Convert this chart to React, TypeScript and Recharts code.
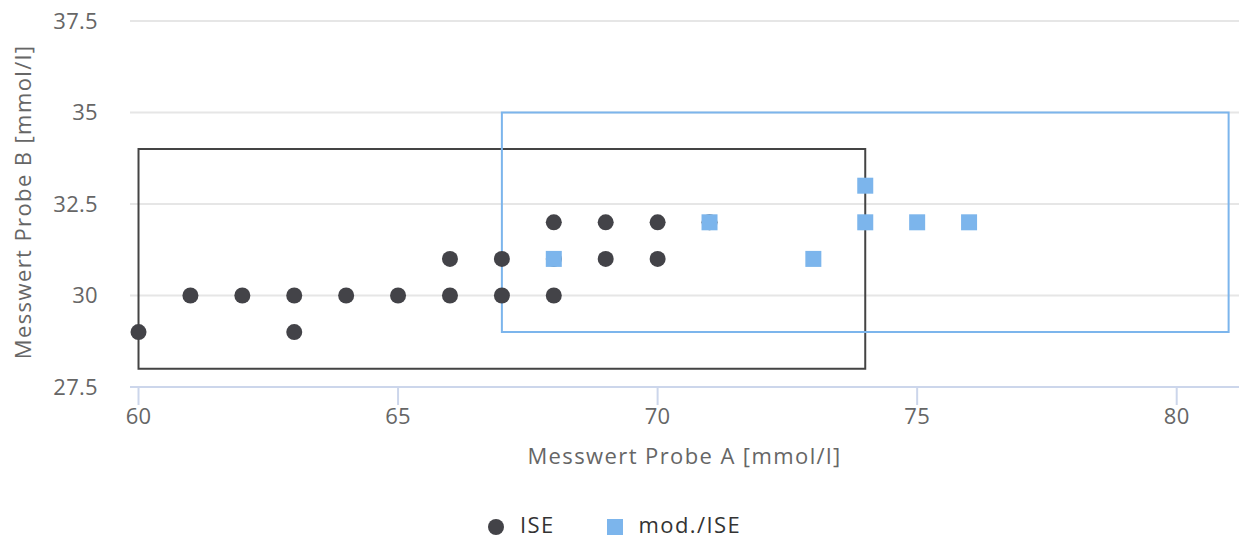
import React from 'react';
import {
  ScatterChart,
  Scatter,
  XAxis,
  YAxis,
  CartesianGrid,
  ReferenceArea,
  Legend,
} from 'recharts';

// ISE measurements (Probe A, Probe B)
const iseX = [60, 61, 62, 63, 63, 64, 65, 66, 66, 67, 67, 68, 68, 68, 69, 69, 70, 70, 71];
const iseY = [29, 30, 30, 30, 29, 30, 30, 30, 31, 31, 30, 32, 31, 30, 32, 31, 32, 31, 32];

// mod./ISE measurements
const modX = [68, 71, 73, 74, 74, 75, 76];
const modY = [31, 32, 31, 33, 32, 32, 32];

// acceptance boxes
const iseRangeX = [60, 74];
const iseRangeY = [28, 34];
const modRangeX = [67, 81];
const modRangeY = [29, 35];

const xTicks = [60, 65, 70, 75, 80];
const yTicks = [27.5, 30, 32.5, 35, 37.5];

const iseData = iseX.map((x, i) => ({ x, y: iseY[i] }));
const modData = modX.map((x, i) => ({ x, y: modY[i] }));

const DARK = '#434348';
const BLUE = '#7cb5ec';
const tickStyle = { fontSize: 22, fill: '#666666' };

export default function App() {
  return (
    <div style={{ position: 'absolute', left: 0, top: 0, fontFamily: '"Open Sans", sans-serif' }}>
      <style>{'.recharts-label{letter-spacing:1.4px}.recharts-cartesian-axis-tick-value{letter-spacing:0.3px}'}</style>
      <ScatterChart width={1239} height={539} margin={{ top: 21, right: 0, left: 0, bottom: 0 }}>
        <CartesianGrid horizontal vertical={false} stroke="#e6e6e6" strokeWidth={2} />
        <XAxis
          type="number"
          dataKey="x"
          domain={[59.836, 81.2]}
          ticks={xTicks}
          allowDataOverflow
          height={122}
          tick={tickStyle}
          tickSize={18}
          tickMargin={3}
          axisLine={{ stroke: '#ccd6eb', strokeWidth: 2 }}
          tickLine={{ stroke: '#ccd6eb', strokeWidth: 2 }}
          label={{ value: 'Messwert Probe A [mmol/l]', position: 'insideTop', offset: 61, fill: '#666666', fontSize: 22 }}
        />
        <YAxis
          type="number"
          dataKey="y"
          domain={[27.5, 37.5]}
          ticks={yTicks}
          allowDataOverflow
          width={130}
          tick={tickStyle}
          tickSize={0}
          tickMargin={32}
          axisLine={false}
          tickLine={false}
          label={{ value: 'Messwert Probe B [mmol/l]', position: 'center', angle: -90, dx: -42, dy: -2, fill: '#666666', fontSize: 22 }}
        />
        <ReferenceArea
          x1={iseRangeX[0]}
          x2={iseRangeX[1]}
          y1={iseRangeY[0]}
          y2={iseRangeY[1]}
          fill="none"
          fillOpacity={0}
          stroke="#444444"
          strokeWidth={2}
          ifOverflow="visible"
        />
        <ReferenceArea
          x1={modRangeX[0]}
          x2={modRangeX[1]}
          y1={modRangeY[0]}
          y2={modRangeY[1]}
          fill="none"
          fillOpacity={0}
          stroke={BLUE}
          strokeWidth={2}
          ifOverflow="visible"
        />
        <Legend
          verticalAlign="bottom"
          align="center"
          iconSize={16}
          wrapperStyle={{ bottom: 0, height: 30, lineHeight: '30px', fontSize: 22 }}
          formatter={(value: string, _entry: any, index: number) => (
            <span
              style={{
                color: '#333333',
                letterSpacing: '1.4px',
                marginLeft: 12,
                marginRight: index === 0 ? 42 : 0,
              }}
            >
              {value}
            </span>
          )}
        />
        <Scatter
          name="ISE"
          data={iseData}
          fill={DARK}
          legendType="circle"
          isAnimationActive={false}
          shape={(p: any) => <circle cx={p.cx} cy={p.cy} r={8} fill={DARK} />}
        />
        <Scatter
          name="mod./ISE"
          data={modData}
          fill={BLUE}
          legendType="square"
          isAnimationActive={false}
          shape={(p: any) => <rect x={p.cx - 8} y={p.cy - 8} width={16} height={16} fill={BLUE} />}
        />
      </ScatterChart>
    </div>
  );
}
